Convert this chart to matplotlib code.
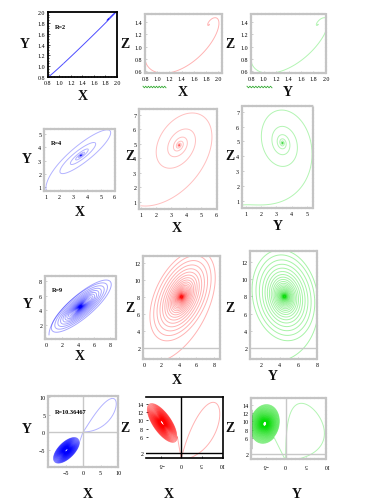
import numpy as np
import matplotlib.pyplot as plt
from matplotlib.collections import LineCollection
from matplotlib.lines import Line2D

plt.rcParams['font.family'] = ['Liberation Serif', 'DejaVu Serif']

W, H = 365, 502

r_labels = ["R=2", "R=4", "R=9", "R=10.36467"]

# spiral centres (x, y, z)
centre_r2 = [1.85, 1.87, 1.36]
centre_r4 = [3.55, 3.4, 4.9]
centre_r9 = [4.3, 4.5, 8.0]
centre_r10 = [-4.75, -5.2, 9.4]

# first-loop amplitude of x, y, z
amp_r2 = [1.2, 1.25, 1.45]
amp_r4 = [3.05, 2.6, 3.6]
amp_r9 = [4.1, 3.9, 6.0]
amp_r10 = [3.75, 3.75, 4.8]

# phase of x, y, z at the start
phase_r2 = [np.pi - 0.5, np.pi - 0.55, 1.7]
phase_r4 = [np.pi, np.pi + 0.5, np.pi - 1.2]
phase_r9 = [np.pi, np.pi + 0.6, np.pi - 1.1]
phase_r10 = [0.0, 0.9, np.pi - 0.8]

# shrink factor per turn and number of turns
shrink = [0.023, 0.5, 0.88, 0.965]
turns = [4, 10, 35, 60]

# starting points
start_r2 = [0.8, 0.8, 0.8]
start_r4 = [1.0, 0.75, 0.7]
start_r9 = [0.4, 0.6, 0.8]

# R=10.36467 outer loop: peak values, where they peak along the loop, sharpness
loop_peak = [9.5, 9.6, 14.0]
loop_at = [0.5, 0.38, 0.65]
loop_sharp = [4.0, 6.0, 5.0]


def spiral(c, amp, ph, q, nturn, start=None, k=1.0):
    th = np.linspace(0, 2 * np.pi * nturn, 220 * nturn)
    a = -np.log(q) / (2 * np.pi)
    c, amp, ph = np.array(c), np.array(amp), np.array(ph)
    p = c[:, None] + amp[:, None] * np.exp(-a * th) * np.cos(th + ph[:, None])
    if start is not None:
        w = np.array(start) - (c + amp * np.cos(ph))
        p = p + w[:, None] * np.exp(-k * th)
    return p


def bump(s, p, al=5.0):
    return (s / p) ** (al * p) * ((1 - s) / (1 - p)) ** (al * (1 - p))


traj = []
traj.append(spiral(centre_r2, amp_r2, phase_r2, shrink[0], turns[0], start_r2, 2.0))
traj.append(spiral(centre_r4, amp_r4, phase_r4, shrink[1], turns[1], start_r4, 1.2))
traj.append(spiral(centre_r9, amp_r9, phase_r9, shrink[2], turns[2], start_r9, 1.0))
s = np.linspace(0, 1, 500)
loop = np.array([loop_peak[0] * bump(s, loop_at[0], loop_sharp[0]),
                 loop_peak[1] * bump(s, loop_at[1], loop_sharp[1]),
                 0.4 + loop_peak[2] * bump(s, loop_at[2], loop_sharp[2])])
lobe = spiral(centre_r10, amp_r10, phase_r10, shrink[3], turns[3])
traj.append((loop, lobe))

# axes boxes in pixels: left, right, top, bottom
boxes = [
    [(48, 117, 13, 78), (145, 222, 15, 74), (251, 326, 15, 74)],
    [(44, 115, 130, 192), (139, 217, 110, 210), (242, 313, 107, 209)],
    [(45, 116, 277, 340), (143, 220, 257, 360), (250, 317, 252, 360)],
    [(48, 118, 397, 468), (146, 223, 398, 459), (251, 326, 399, 460)],
]
limits = [
    [((0.8, 2.0), (0.8, 2.0)), ((0.8, 2.06), (0.57, 1.53)), ((0.8, 2.0), (0.57, 1.53))],
    [((0.85, 6.05), (0.7, 5.4)), ((0.87, 6.07), (0.5, 7.4)), ((0.75, 5.4), (0.5, 7.4))],
    [((-0.1, 8.75), (0.1, 8.7)), ((-0.1, 8.7), (0.7, 12.8)), ((0.8, 8.0), (0.7, 13.3))],
    [((-10, 10), (-10, 10.3)), ((-8.75, 10.3), (0.8, 15.7)), ((-8.6, 9.5), (0.8, 15.7))],
]
ticks = [
    [([0.8, 1.0, 1.2, 1.4, 1.6, 1.8, 2.0], [0.8, 1.0, 1.2, 1.4, 1.6, 1.8, 2.0]),
     ([0.8, 1.0, 1.2, 1.4, 1.6, 1.8, 2.0], [0.6, 0.8, 1.0, 1.2, 1.4]),
     ([0.8, 1.0, 1.2, 1.4, 1.6, 1.8, 2.0], [0.6, 0.8, 1.0, 1.2, 1.4])],
    [([1, 2, 3, 4, 5, 6], [1, 2, 3, 4, 5]), ([1, 2, 3, 4, 5, 6], [1, 2, 3, 4, 5, 6, 7]),
     ([1, 2, 3, 4, 5], [1, 2, 3, 4, 5, 6, 7])],
    [([0, 2, 4, 6, 8], [2, 4, 6, 8]), ([0, 2, 4, 6, 8], [2, 4, 6, 8, 10, 12]),
     ([2, 4, 6, 8], [2, 4, 6, 8, 10, 12])],
    [([-5, 0, 5, 10], [-5, 0, 5, 10]), ([-5, 0, 5, 10], [2, 6, 8, 10, 12, 14]),
     ([-5, 0, 5, 10], [2, 6, 8, 10, 12, 14])],
]
pairs = [(0, 1), (0, 2), (1, 2)]
colors = ['#0000ff', '#ff0000', '#00dd00']
alphas = [[0.7, 0.3, 0.3], [0.3, 0.25, 0.3], [0.35, 0.3, 0.35], [0.5, 0.5, 0.5]]


def draw(ax, u, v, col, al, lw=0.7):
    pts = np.column_stack([u, v])
    segs = [pts[i:i + 25] for i in range(0, len(pts) - 1, 24)]
    ax.add_collection(LineCollection(segs, colors=col, alpha=al, linewidths=lw))


fig = plt.figure(figsize=(W / 100, H / 100), dpi=100)

for r in range(4):
    for c in range(3):
        l, rgt, t, b = boxes[r][c]
        ax = fig.add_axes([l / W, 1 - b / H, (rgt - l) / W, (b - t) / H])
        i, j = pairs[c]
        if r < 3:
            p = traj[r]
            draw(ax, p[i], p[j], colors[c], alphas[r][c])
        else:
            loop, lobe = traj[3]
            link = np.column_stack([loop[:, -1], lobe[:, 0]])
            draw(ax, loop[i], loop[j], colors[c], 0.3)
            draw(ax, link[i], link[j], colors[c], 0.3)
            draw(ax, lobe[i], lobe[j], colors[c], alphas[r][c], 0.5)
        ax.set_xlim(*limits[r][c][0])
        ax.set_ylim(*limits[r][c][1])
        xt, yt = ticks[r][c]
        ax.set_xticks(xt)
        ax.set_yticks(yt)
        if r == 0:
            ax.set_xticklabels(['%.1f' % v for v in xt])
            ax.set_yticklabels(['%.1f' % v for v in yt])
        if r == 0 and c == 0:
            edge = 'black'
            for sp in ax.spines.values():
                sp.set_color('black')
                sp.set_linewidth(1.3)
            ax.minorticks_on()
        elif r == 3 and c == 1:
            edge = 'black'
            for sp in ax.spines.values():
                sp.set_color('black')
                sp.set_linewidth(1.2)
            ax.spines['left'].set_visible(False)
        else:
            edge = '#b8b8b8'
            for sp in ax.spines.values():
                sp.set_color('#c4c4c4')
                sp.set_linewidth(1.6)
                sp.set_linestyle((0, (1, 0.7)))
        ax.tick_params(which='both', direction='in', length=1.5, width=0.5,
                       colors=edge, labelcolor='black', labelsize=4.3, pad=2)
        ax.tick_params(which='minor', length=1)
        if c == 0:
            ax.text(0.1, 0.76, r_labels[r], transform=ax.transAxes,
                    fontsize=4.5, fontweight='bold')
        if r == 2 and c > 0:
            ax.axhline(2, color='#c8c8c8', lw=1)
        if r == 3:
            if c == 1:
                ax.axvline(0, color='black', lw=1)
                ax.axhline(2, color='black', lw=1)
                for lab in ax.get_xticklabels():
                    lab.set_rotation(180)
            else:
                ax.axvline(0, color='#c8c8c8', lw=1)
                ax.axhline(0 if c == 0 else 2, color='#c8c8c8', lw=1)
                if c == 2:
                    for lab in ax.get_xticklabels():
                        lab.set_rotation(180)
                    ax.plot([0, 0], [3.5, 12.8], transform=ax.get_yaxis_transform(),
                            color='black', lw=1, clip_on=False)

# axis titles, pixel positions
label_pos = [
    [(25, 44, 'Y'), (83, 97, 'X'), (125, 44, 'Z'), (183, 92, 'X'), (230, 44, 'Z'), (288, 92, 'Y')],
    [(27, 160, 'Y'), (80, 212, 'X'), (130, 157, 'Z'), (177, 229, 'X'), (230, 157, 'Z'), (278, 226, 'Y')],
    [(28, 305, 'Y'), (80, 357, 'X'), (130, 308, 'Z'), (177, 381, 'X'), (230, 308, 'Z'), (273, 377, 'Y')],
    [(27, 430, 'Y'), (88, 495, 'X'), (125, 429, 'Z'), (169, 495, 'X'), (230, 429, 'Z'), (297, 495, 'Y')],
]
for row in label_pos:
    for x, y, txt in row:
        fig.text(x / W, 1 - y / H, txt, fontsize=10, fontweight='bold',
                 ha='center', va='center', color='#111111')

# spell-check squiggles under the first tick labels of row 1
for x0, x1 in [(143, 166), (247, 272)]:
    xs = np.linspace(x0, x1, 18)
    ys = 88 + np.where(np.arange(18) % 2 == 0, -0.8, 0.8)
    fig.add_artist(Line2D(xs / W, 1 - ys / H, color='#33aa33', lw=0.6))

fig.savefig('out.png', dpi=100)
